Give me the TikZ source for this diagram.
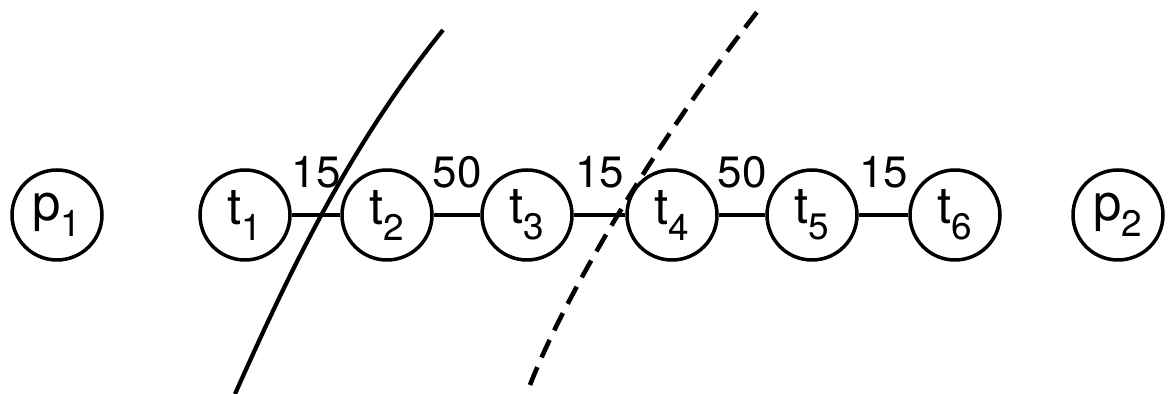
\documentclass[tikz,border=0pt]{standalone}
\usepackage{fontspec}
\setmainfont{TeX Gyre Heros}
\usepackage{tikz}

\newcommand{\lowidx}[2]{#1\raisebox{-0.6ex}{\fontsize{21}{21}\selectfont #2}}

\begin{document}
\begin{tikzpicture}[x=0.02cm, y=-0.02cm,
  state/.style={circle, draw, line width=2pt, minimum size=1.8cm, inner sep=0pt, font=\fontsize{29}{29}\selectfont},
  cost/.style={midway, yshift=0.85cm, font=\fontsize{25}{25}\selectfont}]
\useasboundingbox (0,0) rectangle (1171,394);
\node[state] (p1) at (57,215) {\lowidx{p}{1}};
\node[state] (t1) at (245,215) {\lowidx{t}{1}};
\node[state] (t2) at (387,215) {\lowidx{t}{2}};
\node[state] (t3) at (527,215) {\lowidx{t}{3}};
\node[state] (t4) at (672,215) {\lowidx{t}{4}};
\node[state] (t5) at (812,215) {\lowidx{t}{5}};
\node[state] (t6) at (955,215) {\lowidx{t}{6}};
\node[state] (p2) at (1118,215) {\lowidx{p}{2}};
\draw[line width=1.8pt] (t1) -- (t2) node[cost] {15};
\draw[line width=1.8pt] (t2) -- (t3) node[cost] {50};
\draw[line width=1.8pt] (t3) -- (t4) node[cost] {15};
\draw[line width=1.8pt] (t4) -- (t5) node[cost] {50};
\draw[line width=1.8pt] (t5) -- (t6) node[cost] {15};
% the two cuts
\draw[line width=2.4pt] (235,394) .. controls (286,280) and (346,150) .. (443,30);
\draw[line width=2.6pt, dash pattern=on 11pt off 6pt] (530,385) .. controls (563,300) and (650,150) .. (757,12);
\end{tikzpicture}
\end{document}
